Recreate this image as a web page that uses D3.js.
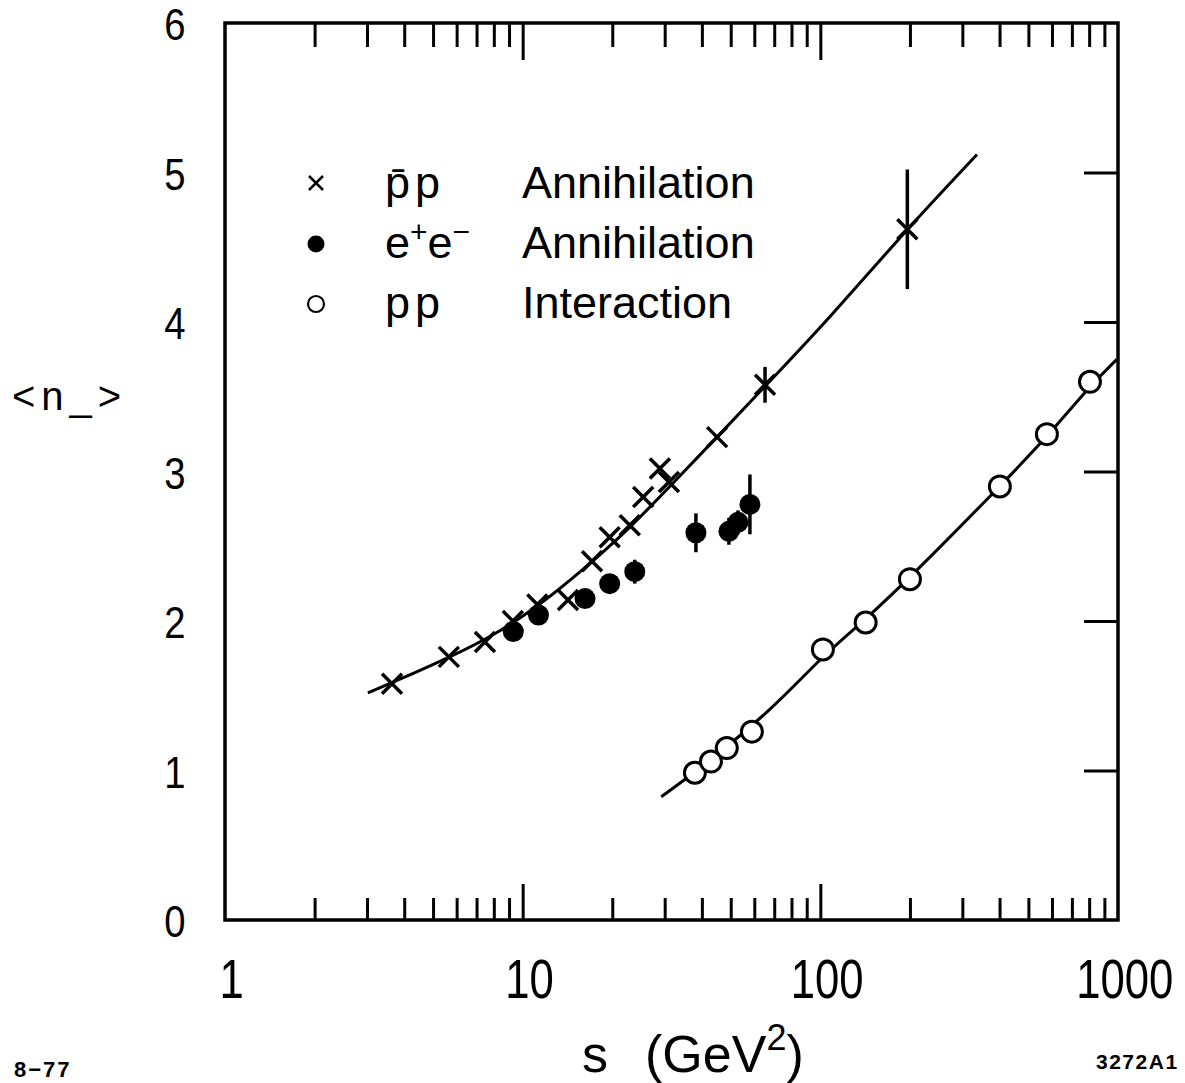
<!DOCTYPE html>
<html>
<head>
<meta charset="utf-8">
<script src="https://cdn.jsdelivr.net/npm/d3@7"></script>
<style>
  body { margin: 0; background: #fff; }
  svg text { font-family: "Liberation Sans", Arial, sans-serif; fill: #000; }
</style>
</head>
<body>
<div id="chart_div"></div>
<script>
// pbar p annihilation: s (GeV^2), <n_>, error
var pbarp_s = [3.64, 5.65, 7.47, 9.27, 11.2, 14.2, 17.1, 19.6, 22.9, 25.4, 28.9, 31.0, 45.0, 65.2, 196];
var pbarp_n = [1.58, 1.76, 1.86, 2.00, 2.11, 2.14, 2.40, 2.56, 2.64, 2.83, 3.02, 2.93, 3.23, 3.58, 4.62];
var pbarp_err = [0, 0, 0, 0, 0, 0, 0, 0, 0, 0, 0, 0, 0, 0.12, 0.40];

// e+e- annihilation
var ee_s = [9.3, 11.3, 16.2, 19.6, 23.8, 38.2, 49.3, 52.9, 58.0];
var ee_n = [1.93, 2.04, 2.15, 2.25, 2.33, 2.59, 2.60, 2.66, 2.78];
var ee_err = [0, 0, 0, 0, 0.08, 0.13, 0.09, 0.08, 0.20];

// pp interaction
var pp_s = [37.9, 42.9, 48.5, 58.9, 102, 142, 200, 401, 577, 805];
var pp_n = [0.985, 1.06, 1.15, 1.26, 1.81, 1.99, 2.28, 2.90, 3.25, 3.60];

// fitted curves
var fit_pbarp_s = [3.02, 4.42, 5.70, 7.77, 11.17, 15.9, 22.9, 30.5, 45.0, 65.9, 105.7, 195, 336];
var fit_pbarp_n = [1.52, 1.66, 1.76, 1.89, 2.09, 2.34, 2.62, 2.88, 3.23, 3.58, 4.01, 4.62, 5.12];
var fit_pp_s = [29.2, 37.9, 68.8, 102, 142, 200, 401, 577, 803, 991];
var fit_pp_n = [0.825, 0.985, 1.405, 1.77, 2.01, 2.29, 2.90, 3.23, 3.57, 3.75];

var x_major = [10, 100];
var x_minor = [2, 3, 4, 5, 6, 7, 8, 9, 20, 30, 40, 50, 60, 70, 80, 90, 200, 300, 400, 500, 600, 700, 800, 900];
var x_labels = [1, 10, 100, 1000];
var y_labels = [0, 1, 2, 3, 4, 5, 6];
var y_right_ticks = [1, 2, 3, 4, 5];

var width = 1185, height = 1083;
var x = d3.scaleLog().domain([1, 1000]).range([225, 1118]);
var y = d3.scaleLinear().domain([0, 6]).range([920, 23]);

var svg = d3.select("#chart_div").append("svg")
    .attr("width", width)
    .attr("height", height);

function zip(a, b, c) {
    return a.map(function(d, i) { return {s: d, n: b[i], e: c ? c[i] : 0}; });
}

function tick_axis(axis, tx, ty) {
    var g = svg.append("g")
        .attr("transform", "translate(" + tx + "," + ty + ")")
        .call(axis);
    g.select(".domain").remove();
    g.selectAll("line").attr("stroke", "#000").attr("stroke-width", 3);
    return g;
}

// tick marks (inside the frame)
tick_axis(d3.axisBottom(x).tickValues(x_minor).tickSize(-22).tickFormat(""), 0, 920);
tick_axis(d3.axisBottom(x).tickValues(x_major).tickSize(-36).tickFormat(""), 0, 920);
tick_axis(d3.axisTop(x).tickValues(x_minor).tickSize(-24).tickFormat(""), 0, 23);
tick_axis(d3.axisTop(x).tickValues(x_major).tickSize(-37).tickFormat(""), 0, 23);
tick_axis(d3.axisRight(y).tickValues(y_right_ticks).tickSize(-34).tickFormat(""), 1118, 0);

// frame
svg.append("rect")
    .attr("x", x(1)).attr("y", y(6))
    .attr("width", x(1000) - x(1)).attr("height", y(0) - y(6))
    .attr("fill", "none").attr("stroke", "#000").attr("stroke-width", 3.5);

// tick labels, squeezed sideways like the narrow lettering of the original
var xl = svg.append("g")
    .attr("transform", "translate(0,920)")
    .call(d3.axisBottom(x).tickValues(x_labels).tickSize(0).tickPadding(38).tickFormat(d3.format("d")));
xl.select(".domain").remove();
xl.selectAll("text").attr("font-size", 56).attr("x", 8)
    .attr("transform", "scale(0.78,1)");

var yl = svg.append("g")
    .attr("transform", "translate(225,0)")
    .call(d3.axisLeft(y).tickValues(y_labels).tickSize(0).tickFormat(d3.format("d")));
yl.select(".domain").remove();
yl.selectAll("text").attr("font-size", 45).attr("x", -59).attr("text-anchor", "middle").attr("dy", "0.37em")
    .attr("transform", "scale(0.85,1)");

// fitted curves
var line = d3.line()
    .x(function(d) { return x(d.s); })
    .y(function(d) { return y(d.n); })
    .curve(d3.curveBasis);

[zip(fit_pbarp_s, fit_pbarp_n), zip(fit_pp_s, fit_pp_n)].forEach(function(pts) {
    svg.append("path").datum(pts)
        .attr("d", line)
        .attr("fill", "none").attr("stroke", "#000").attr("stroke-width", 3);
});

// error bars
var err_pts = zip(pbarp_s, pbarp_n, pbarp_err).concat(zip(ee_s, ee_n, ee_err))
    .filter(function(d) { return d.e > 0; });
svg.append("g").selectAll("line")
    .data(err_pts).enter().append("line")
    .attr("x1", function(d) { return x(d.s); })
    .attr("x2", function(d) { return x(d.s); })
    .attr("y1", function(d) { return y(d.n - d.e); })
    .attr("y2", function(d) { return y(d.n + d.e); })
    .attr("stroke", "#000").attr("stroke-width", 3.5);

// pbar p crosses
var cross = 10;
svg.append("g").selectAll("path")
    .data(zip(pbarp_s, pbarp_n)).enter().append("path")
    .attr("d", function(d) {
        var cx = x(d.s), cy = y(d.n);
        return "M" + (cx - cross) + "," + (cy - cross) + "L" + (cx + cross) + "," + (cy + cross) +
               "M" + (cx - cross) + "," + (cy + cross) + "L" + (cx + cross) + "," + (cy - cross);
    })
    .attr("stroke", "#000").attr("stroke-width", 3.5).attr("fill", "none");

// e+e- filled dots
svg.append("g").selectAll("circle")
    .data(zip(ee_s, ee_n)).enter().append("circle")
    .attr("cx", function(d) { return x(d.s); })
    .attr("cy", function(d) { return y(d.n); })
    .attr("r", 10.5)
    .attr("fill", "#000");

// pp open circles
svg.append("g").selectAll("circle")
    .data(zip(pp_s, pp_n)).enter().append("circle")
    .attr("cx", function(d) { return x(d.s); })
    .attr("cy", function(d) { return y(d.n); })
    .attr("r", 10.5)
    .attr("fill", "#fff").attr("stroke", "#000").attr("stroke-width", 3);

// legend
var lg = svg.append("g");
lg.append("path")
    .attr("d", "M309,176L323,190M309,190L323,176")
    .attr("stroke", "#000").attr("stroke-width", 2.5);
lg.append("circle").attr("cx", 316).attr("cy", 244).attr("r", 8.5).attr("fill", "#000");
lg.append("circle").attr("cx", 316).attr("cy", 304).attr("r", 8).attr("fill", "none")
    .attr("stroke", "#000").attr("stroke-width", 2.2);

var legend_size = 45;
lg.append("text").attr("x", 385).attr("y", 198).attr("font-size", legend_size)
    .attr("letter-spacing", 5).text("p\u0304p");
var ee = lg.append("text").attr("x", 385).attr("y", 258).attr("font-size", legend_size);
ee.append("tspan").text("e");
ee.append("tspan").attr("dy", -16).attr("font-size", 30).text("+");
ee.append("tspan").attr("dy", 16).text("e");
ee.append("tspan").attr("dy", -16).attr("font-size", 30).text("\u2212");
lg.append("text").attr("x", 385).attr("y", 318).attr("font-size", legend_size)
    .attr("letter-spacing", 5).text("pp");
lg.append("text").attr("x", 522).attr("y", 198).attr("font-size", legend_size).text("Annihilation");
lg.append("text").attr("x", 522).attr("y", 258).attr("font-size", legend_size).text("Annihilation");
lg.append("text").attr("x", 522).attr("y", 318).attr("font-size", legend_size).text("Interaction");

// axis titles
svg.append("text").attr("x", 12).attr("y", 410).attr("font-size", 40)
    .attr("letter-spacing", 6).text("<n_>");

svg.append("text").attr("x", 582).attr("y", 1072).attr("font-size", 52).text("s");
var xt = svg.append("text").attr("x", 645).attr("y", 1072).attr("font-size", 52);
xt.append("tspan").text("(GeV");
xt.append("tspan").attr("dy", -22).attr("font-size", 36).text("2");
xt.append("tspan").attr("dy", 22).text(")");

svg.append("text").attr("x", 14).attr("y", 1077).attr("font-size", 22)
    .attr("font-weight", "bold").attr("letter-spacing", 2).text("8\u221277");
svg.append("text").attr("x", 1096).attr("y", 1069).attr("font-size", 21)
    .attr("font-weight", "bold").attr("letter-spacing", 1.5).text("3272A1");
</script>
</body>
</html>
